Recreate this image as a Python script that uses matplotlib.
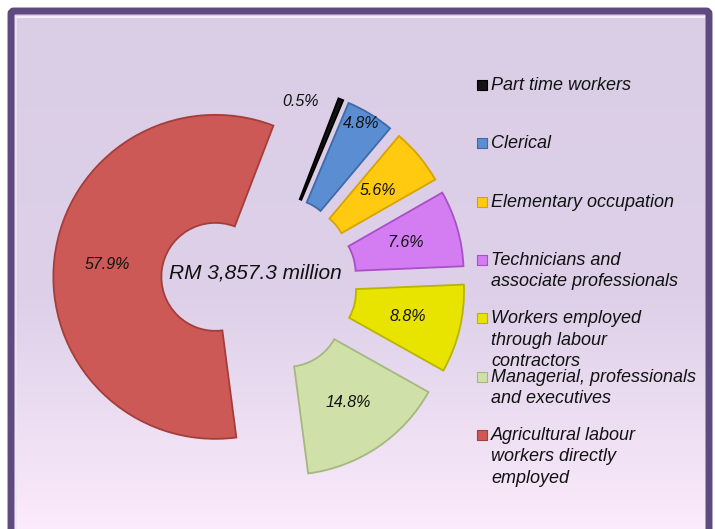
import numpy as np
import matplotlib.pyplot as plt
from matplotlib.patches import FancyBboxPatch
from matplotlib.colors import LinearSegmentedColormap

# data
categories = ['Part time workers', 'Clerical', 'Elementary occupation',
              'Technicians and\nassociate professionals',
              'Workers employed\nthrough labour\ncontractors',
              'Managerial, professionals\nand executives',
              'Agricultural labour\nworkers directly\nemployed']
shares = [0.5, 4.8, 5.6, 7.6, 8.8, 14.8, 57.9]
colors = ['#141414', '#5B8DD2', '#FFCA10', '#D47CF2', '#E8E400', '#CFE0A8', '#CC5955']
edge_colors = ['#000000', '#3E6AA8', '#D9A200', '#A94FC8', '#B8B400', '#A5B880', '#A33E3B']
total_label = 'RM 3,857.3 million'

W, H = 715, 529
fig = plt.figure(figsize=(W / 100, H / 100), dpi=100)
ax = fig.add_axes([0, 0, 1, 1])
ax.set_xlim(0, W)
ax.set_ylim(0, H)
ax.axis('off')

# background panel: gradient inside a purple frame
grad = LinearSegmentedColormap.from_list('bg', [(0, '#DACEE6'), (0.55, '#DDD0E8'), (1, '#FCEBFC')])
g = np.linspace(0, 1, 256).reshape(-1, 1)
img = ax.imshow(g, cmap=grad, aspect='auto', extent=(11, 709, -6, 518), origin='upper', zorder=0)
frame = FancyBboxPatch((11, -6), 698, 524, boxstyle='round,pad=0,rounding_size=3',
                       fc='none', ec='#5E4A7E', lw=5, zorder=1)
ax.add_patch(frame)
img.set_clip_path(frame)
ax.plot([16, 704], [512, 512], color='#F4EEF8', lw=1.5, zorder=1)
ax.plot([16, 16], [0, 512], color='#EDE5F3', lw=1.2, zorder=1)

# exploded donut, clockwise from the part-time sliver
cx, cy, R = 267, H - 283, 162
explode = [36, 36, 36, 36, 36, 36, 52]
wedges, _, autotexts = ax.pie(
    shares, explode=explode, colors=colors, startangle=69, counterclock=False,
    radius=R, center=(cx, cy), frame=True,
    wedgeprops=dict(width=108, linewidth=1.3),
    autopct='%1.1f%%', pctdistance=0.67,
    textprops=dict(fontsize=11.5, style='italic', family='Liberation Sans', color='#111111'))
for w, ec in zip(wedges, edge_colors):
    w.set_edgecolor(ec)
    w.set_zorder(3)
for t in autotexts:
    t.set_zorder(4)
ax.set_xlim(0, W)
ax.set_ylim(0, H)
ax.axis('off')

# small slices: labels pushed toward the rim
for i, (dang, frac) in {0: (14, 0.92), 1: (1, 0.92)}.items():
    w = wedges[i]
    mid = np.deg2rad(0.5 * (w.theta1 + w.theta2) + dang)
    autotexts[i].set_position((w.center[0] + frac * R * np.cos(mid),
                               w.center[1] + frac * R * np.sin(mid)))

ax.text(255, H - 273, total_label, ha='center', va='center', fontsize=15,
        style='italic', family='Liberation Sans', color='#111111', zorder=5)

# legend drawn by hand: marker aligned with the first line of each entry
for i, (lab, col, ec) in enumerate(zip(categories, colors, edge_colors)):
    y = H - (85 + i * 58.3)
    ax.scatter([482], [y], marker='s', s=60, c=col, edgecolors=ec, linewidths=0.8, zorder=5)
    ax.text(491, y + 8, lab, ha='left', va='top', fontsize=13, style='italic',
            family='Liberation Sans', color='#111111', linespacing=1.34, zorder=5)

fig.savefig('out.png', dpi=100)
